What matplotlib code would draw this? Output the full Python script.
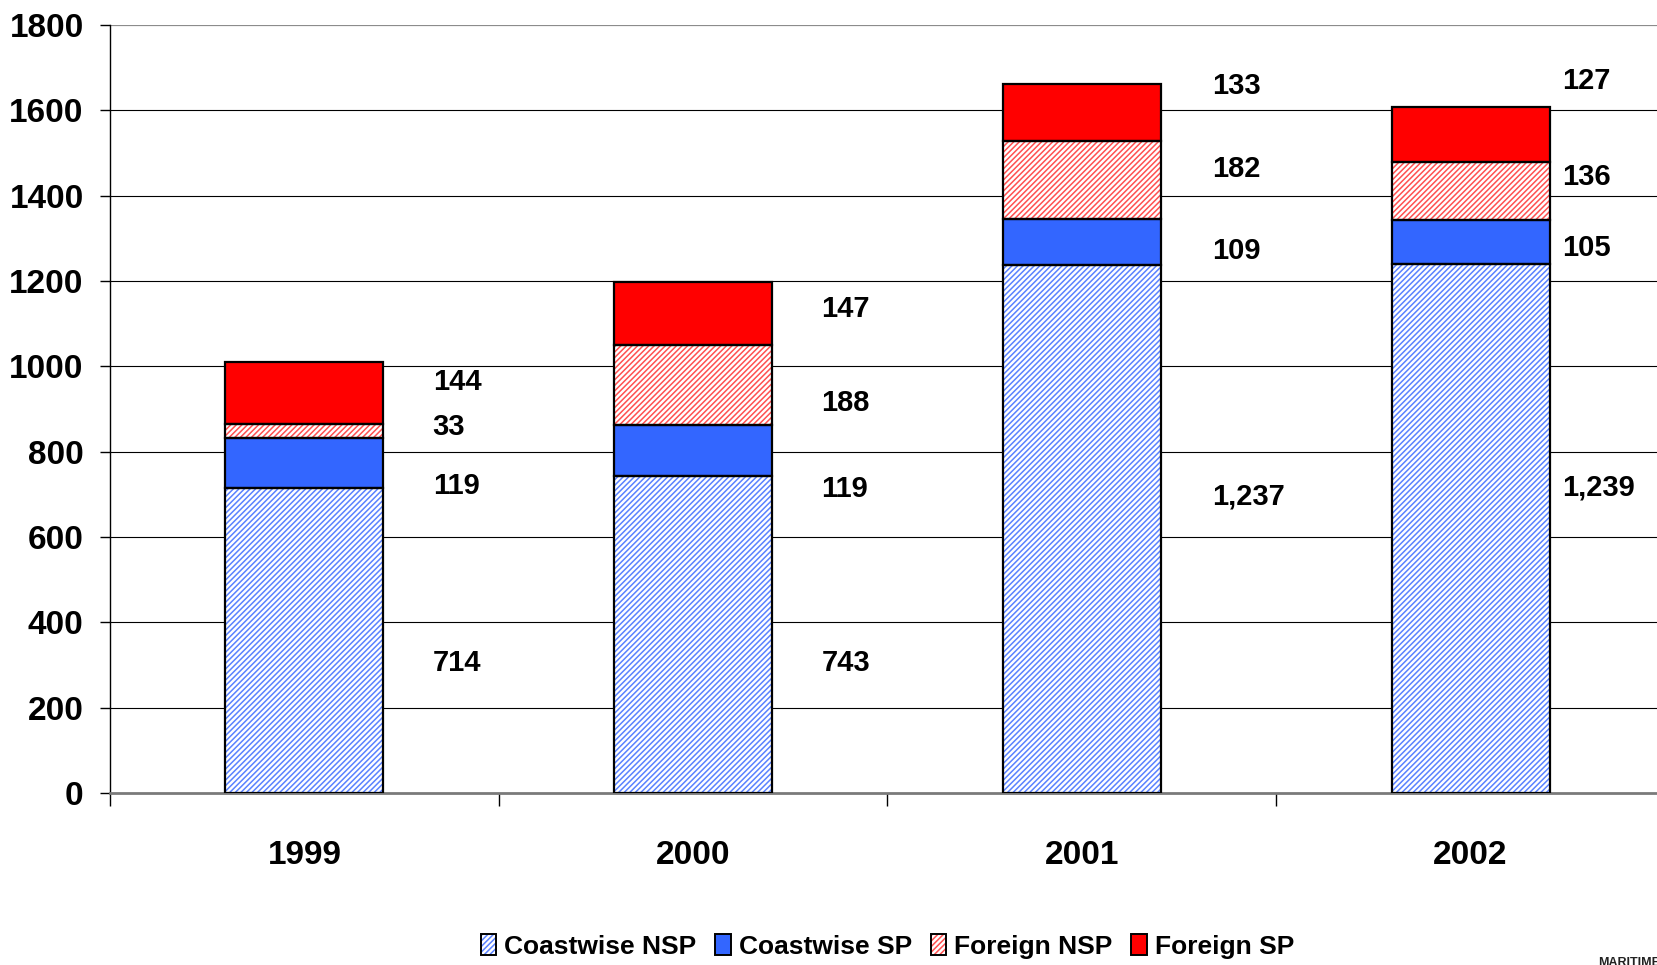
import matplotlib.pyplot as plt
import numpy as np
from matplotlib.patches import Patch
from matplotlib.legend_handler import HandlerTuple

plt.rcParams["font.family"] = ["Liberation Sans", "DejaVu Sans"]
plt.rcParams["font.weight"] = "bold"
plt.rcParams["hatch.linewidth"] = 1.1

years = ["1999", "2000", "2001", "2002"]
series_names = ["Coastwise NSP", "Coastwise SP", "Foreign NSP", "Foreign SP"]
coastwise_nsp = [714, 743, 1237, 1239]
coastwise_sp = [119, 119, 109, 105]
foreign_nsp = [33, 188, 182, 136]
foreign_sp = [144, 147, 133, 127]
yticks = np.arange(0, 1801, 200)

# where the value labels sit (data units), one list per series
label_y_cnsp = [304, 304, 696, 715]
label_y_csp = [720, 713, 1270, 1277]
label_y_fnsp = [857, 914, 1463, 1444]
label_y_fsp = [963, 1134, 1656, 1669]
label_dx = [0.33, 0.33, 0.335, 0.235]

# fill, hatch colour, hatch pattern
styles = [
    ("#ffffff", "#5a82ff", "//////"),
    ("#3366ff", None, None),
    ("#ffffff", "#ff5050", "//////"),
    ("#ff0000", None, None),
]

series = [coastwise_nsp, coastwise_sp, foreign_nsp, foreign_sp]
label_ys = [label_y_cnsp, label_y_csp, label_y_fnsp, label_y_fsp]

fig = plt.figure(figsize=(16.57, 9.65), dpi=100)
ax = fig.add_axes([0.0664, 0.1782, 0.9384, 0.7959])

x = np.arange(len(years))
width = 0.406
bottom = np.zeros(len(years))
handles = []
for vals, (face, hcol, hatch) in zip(series, styles):
    vals = np.array(vals, dtype=float)
    if hatch:
        ax.bar(x, vals, width, bottom=bottom, color=face, edgecolor=hcol,
               hatch=hatch, linewidth=0, zorder=3)
        h1 = Patch(facecolor=face, edgecolor=hcol, hatch="//////", linewidth=0)
    else:
        ax.bar(x, vals, width, bottom=bottom, color=face, linewidth=0, zorder=3)
        h1 = Patch(facecolor=face, linewidth=0)
    ax.bar(x, vals, width, bottom=bottom, fill=False, edgecolor="black",
           linewidth=1.6, zorder=4)
    h2 = Patch(fill=False, edgecolor="black", linewidth=1.4)
    handles.append((h1, h2))
    bottom += vals

for vals, ys in zip(series, label_ys):
    for i, (v, y) in enumerate(zip(vals, ys)):
        ax.text(x[i] + label_dx[i], y, f"{v:,}", ha="left", va="center",
                fontsize=21, fontweight="bold", color="black", zorder=5)

ax.set_xlim(-0.5, len(years) - 0.5)
ax.set_ylim(0, 1800)
ax.set_yticks(yticks)
ax.set_yticklabels([str(t) for t in yticks], fontsize=24, fontweight="bold")
ax.set_xticks(x)
ax.set_xticklabels(years, fontsize=24, fontweight="bold")
ax.set_xticks(np.arange(-0.5, len(years), 1.0), minor=True)
ax.tick_params(axis="x", which="major", length=0, pad=34)
ax.tick_params(axis="x", which="minor", length=9, width=1, color="black",
               direction="out")
ax.tick_params(axis="y", length=7, width=1, color="black", direction="out",
               pad=12)

for t in yticks[1:-1]:
    ax.axhline(t, color="black", linewidth=0.8, zorder=1)
ax.axhline(1800, color="#8c8c8c", linewidth=1.6, zorder=1)

for side in ["top", "right"]:
    ax.spines[side].set_visible(False)
ax.spines["left"].set_color("black")
ax.spines["left"].set_linewidth(1.0)
ax.spines["bottom"].set_color("#7a7a7a")
ax.spines["bottom"].set_linewidth(2.0)

ax.legend(handles, series_names, handler_map={tuple: HandlerTuple(ndivide=1)},
          loc="center", bbox_to_anchor=(0.5, -0.2), ncol=4, frameon=False,
          fontsize=19, handlelength=0.6, handleheight=0.85,
          handletextpad=0.3, columnspacing=0.7, borderaxespad=0)

fig.text(1598 / 1657, -0.004, "MARITIME", fontsize=9, fontweight="bold",
         ha="left", va="bottom", color="#222222")

fig.savefig("out.png", dpi=100, facecolor="white")
